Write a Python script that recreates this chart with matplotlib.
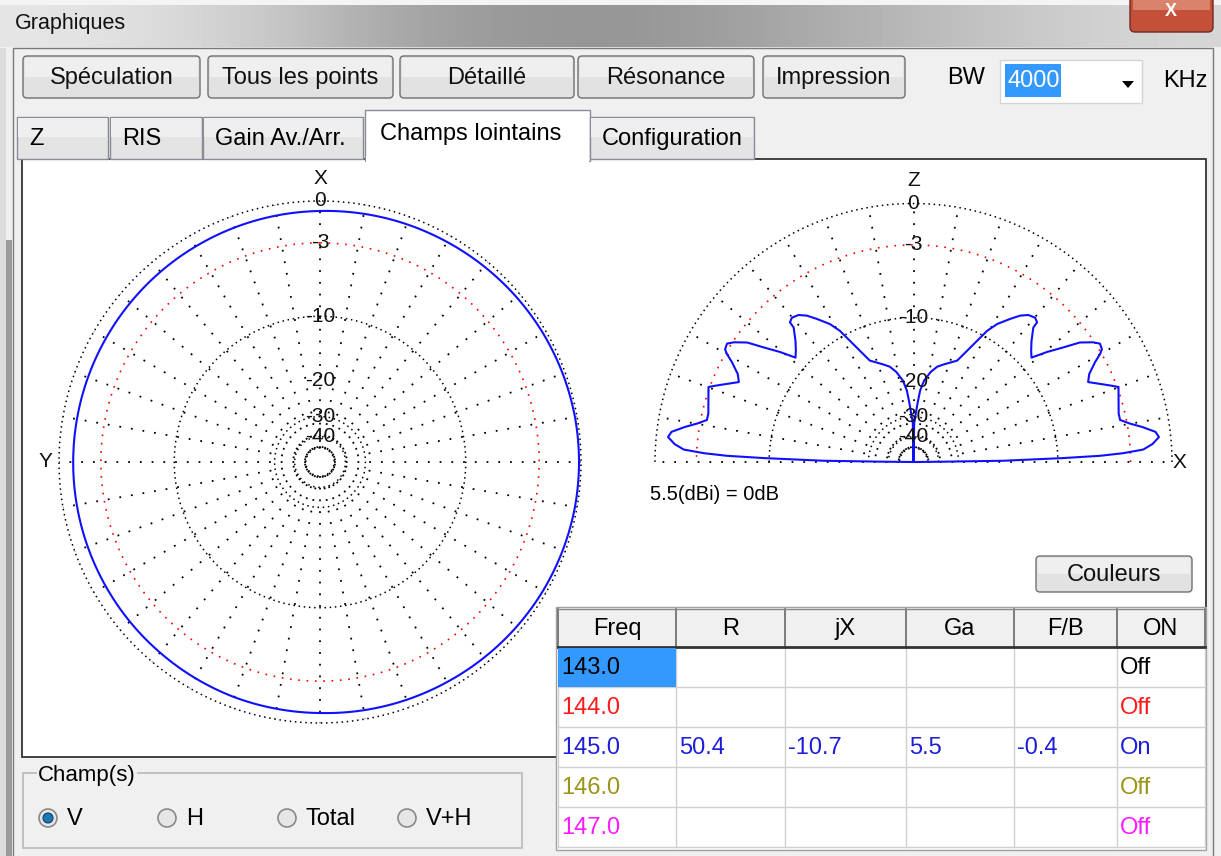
import numpy as np
import matplotlib.pyplot as plt
from matplotlib import font_manager
from matplotlib.patches import Rectangle, FancyBboxPatch, Circle, Polygon

W, H = 1221, 856

# ---- chart data ----
circle_db = [0, -3, -10, -30, -40, -50]
label_db = [0, -3, -10, -20, -30, -40]
label_txt = ['0', '-3', '-10', '-20', '-30', '-40']

# azimuth plane (XY), degrees counter-clockwise from X, gain in dB
az_deg = list(range(0, 361, 10))
az_db = [-0.67, -0.72, -0.77, -0.82, -0.86, -0.90, -0.93, -0.95, -0.96, -0.96,
         -0.95, -0.93, -0.90, -0.86, -0.82, -0.77, -0.72, -0.70, -0.67, -0.60,
         -0.53, -0.46, -0.38, -0.30, -0.23, -0.18, -0.14, -0.13, -0.14, -0.18,
         -0.23, -0.30, -0.38, -0.46, -0.53, -0.60, -0.67]

# elevation plane (XZ), elevation above horizon, one side (pattern is symmetric)
el_deg = [0, 0.6, 0.8, 1.5, 1.9, 2.4, 3.1, 4.3, 5.8, 7.1,
          8.7, 10.1, 11.5, 13.3, 20.1, 21.3, 24.6, 26.6, 28.8, 30.1,
          30.9, 32.4, 33.7, 35.7, 37.4, 39.5, 41.5, 43.5, 45.7, 48.3,
          48.5, 49.9, 52.0, 53.9, 55.9, 58.8, 60.7, 62.3, 64.3, 66.7,
          72.6, 76.0, 79.2, 82.6, 84.7, 86.1, 87.3, 89.0, 90.0]
el_db = [-99, -36.7, -18.1, -9.4, -5.6, -3.6, -2.0, -1.3, -0.8, -1.0,
         -1.9, -2.8, -3.5, -3.5, -2.9, -3.5, -5.1, -4.7, -3.8, -3.1,
         -2.8, -2.7, -3.1, -4.0, -5.4, -6.9, -8.5, -8.0, -7.3, -6.2,
         -5.6, -5.4, -5.6, -6.1, -6.9, -8.1, -9.3, -10.9, -12.7, -14.6,
         -15.9, -16.6, -17.8, -19.7, -22.0, -25.5, -28.7, -32.7, -99]

# ---- GUI texts ----
buttons = ['Spéculation', 'Tous les points', 'Détaillé', 'Résonance', 'Impression']
tabs = ['Z', 'RIS', 'Gain Av./Arr.', 'Champs lointains', 'Configuration']
radios = ['V', 'H', 'Total', 'V+H']
cols = ['Freq', 'R', 'jX', 'Ga', 'F/B', 'ON']
freqs = ['143.0', '144.0', '145.0', '146.0', '147.0']
r_vals = ['', '', '50.4', '', '']
jx_vals = ['', '', '-10.7', '', '']
ga_vals = ['', '', '5.5', '', '']
fb_vals = ['', '', '-0.4', '', '']
on_vals = ['Off', 'Off', 'On', 'Off', 'Off']
row_colors = ['black', '#ff1a1a', '#1e1ed8', '#9a9418', '#ff1aff']

# ---- layout (pixels) ----
button_x = [(23, 200), (208, 393), (400, 574), (578, 754), (763, 905)]
tab_x = [(17, 108), (110, 202), (203, 363), (365, 590), (590, 754)]
radio_x = [48, 167, 287, 407]
col_edges = [558, 676, 785, 906, 1014, 1117, 1205]
row_edges = [609, 647, 687, 727, 767, 807, 847]

names = {f.name for f in font_manager.fontManager.ttflist}
gui_font = 'Liberation Sans'
narrow = 'Liberation Sans Narrow' if 'Liberation Sans Narrow' in names else 'Liberation Sans'
plt.rcParams['font.family'] = gui_font


def arrl(db):
    # ARRL log scale: 0.89 per 2 dB
    return 0.89 ** (-np.asarray(db, dtype=float) / 2)


fig = plt.figure(figsize=(W / 100, H / 100), dpi=100, facecolor='#f0f0f0')
bg = fig.add_axes([0, 0, 1, 1])
bg.axis('off')

# title bar
shade = np.array([[0.90, 0.86, 0.78, 0.66, 0.60, 0.58, 0.62, 0.68, 0.74, 0.80, 0.84]])
bg.imshow(shade, cmap='gray', vmin=0, vmax=1, extent=(0, W, 47, 5),
          aspect='auto', interpolation='bicubic')
bg.add_patch(Rectangle((0, 0), W, 5, fc='#f4f4f4', ec='none'))
bg.text(15, 23, 'Graphiques', va='center', fontsize=15.5, color='#111111')
bg.add_patch(FancyBboxPatch((1130, -12), 83, 44, boxstyle='round,pad=0,rounding_size=5',
                            fc='#c4503a', ec='#6e2a20', lw=1))
bg.add_patch(Rectangle((1133, -8), 77, 18, fc='#d9826c', ec='none'))
bg.text(1171, 11, 'X', color='white', fontsize=13, weight='bold', ha='center', va='center')

# window frame
bg.add_patch(Rectangle((13, 48), 1200, 820, fc='#f0f0f0', ec='#7a7a7a', lw=1))
bg.add_patch(Rectangle((0, 48), 6, H, fc='#dcdcdc', ec='none'))
bg.add_patch(Rectangle((6, 240), 6, H, fc='#9a9a9a', ec='none'))


def button(x0, x1, y0, y1, label):
    bg.add_patch(FancyBboxPatch((x0, y0), x1 - x0, y1 - y0,
                                boxstyle='round,pad=0,rounding_size=4',
                                fc='#e2e2e2', ec='#707070', lw=1))
    bg.add_patch(Rectangle((x0 + 2, y0 + 2), x1 - x0 - 4, (y1 - y0) / 2 - 2,
                           fc='#efefef', ec='none'))
    bg.text((x0 + x1) / 2, (y0 + y1) / 2 + 1, label, ha='center', va='center',
            fontsize=17, color='#111111')


for (x0, x1), lab in zip(button_x, buttons):
    button(x0, x1, 56, 98, lab)

bg.text(966, 78, 'BW', ha='center', va='center', fontsize=17)
bg.add_patch(Rectangle((1000, 60), 142, 43, fc='white', ec='#d4d4d4', lw=1))
bg.add_patch(Rectangle((1005, 64), 56, 33, fc='#3399ff', ec='none'))
bg.text(1007, 81, '4000', color='white', va='center', fontsize=17)
bg.add_patch(Polygon([(1122, 81), (1134, 81), (1128, 88)], closed=True, fc='black', ec='none'))
bg.text(1163, 81, 'KHz', va='center', fontsize=17)

# content panel
bg.add_patch(Rectangle((22, 159), 1184, 598, fc='white', ec='#333333', lw=1.3))

# tabs
for i, ((x0, x1), lab) in enumerate(zip(tab_x, tabs)):
    if i == 3:
        bg.add_patch(Rectangle((x0, 110), x1 - x0, 51, fc='white', ec='#898c95', lw=1))
        bg.add_patch(Rectangle((x0 + 1, 156), x1 - x0 - 2, 8, fc='white', ec='none'))
        bg.text(x0 + 15, 134, lab, va='center', fontsize=17)
    else:
        bg.add_patch(Rectangle((x0, 117), x1 - x0, 42, fc='#e4e4e4', ec='#898c95', lw=1))
        bg.add_patch(Rectangle((x0 + 1, 118), x1 - x0 - 2, 19, fc='#efefef', ec='none'))
        bg.text(x0 + 12, 139, lab, va='center', fontsize=17)


# ---- polar plots ----
def polar_axes(cx, cy, R, zero):
    ax = fig.add_axes([(cx - R) / W, (H - cy - R) / H, 2 * R / W, 2 * R / H],
                      projection='polar')
    ax.set_theta_zero_location(zero)
    ax.set_ylim(0, 1)
    ax.axis('off')
    return ax


def grid(ax, a0, a1, spokes):
    th = np.radians(np.linspace(a0, a1, 720))
    for db in circle_db:
        if db == -3:
            ax.plot(th, np.full_like(th, arrl(db)), color='red', lw=1.2,
                    ls=(0, (1, 4)), clip_on=False)
        else:
            ax.plot(th, np.full_like(th, arrl(db)), color='black', lw=1.1,
                    ls=(0, (1, 2.4)), clip_on=False)
    for a in spokes:
        ax.plot([np.radians(a)] * 2, [arrl(-50), 1.0], color='black', lw=1.3,
                ls=(0, (1, 5.5)), clip_on=False)


lab_kw = dict(ha='center', va='center', fontsize=15, family=narrow, color='#111111')

axl = polar_axes(320, 462, 261, 'N')
grid(axl, 0, 360, range(0, 360, 10))
az_line, = axl.plot(np.radians(az_deg), arrl(az_db), color='#1010ff', lw=1.5)
# draw the segments as polar arcs, like matplotlib's own polar gridlines
az_line.get_path()._interpolation_steps = 30
for db, t in zip(label_db, label_txt):
    axl.text(0, arrl(db), t, **lab_kw)
axl.text(0, 1.085, 'X', **lab_kw)
axl.text(np.pi / 2, 1.05, 'Y', **lab_kw)

axr = polar_axes(913.5, 462, 258.5, 'E')
grid(axr, 0, 180, range(0, 181, 10))
el = np.array(el_deg)
gain = np.array(el_db)
th_full = np.radians(np.concatenate([el, 180 - el[::-1]]))
r_full = np.concatenate([arrl(gain), arrl(gain[::-1])])
axr.plot(th_full, r_full, color='#1010ff', lw=1.5)
for db, t in zip(label_db, label_txt):
    axr.text(np.pi / 2, arrl(db), t, **lab_kw)
axr.text(np.pi / 2, 1.09, 'Z', **lab_kw)
axr.text(0, 1.03, 'X', **lab_kw)

bg.text(650, 494, '5.5(dBi) = 0dB', va='center', fontsize=14.5)

# Couleurs button
button(1036, 1192, 556, 592, 'Couleurs')

# ---- table ----
bg.add_patch(Rectangle((556, 607), 650, 243, fc='white', ec='#a0a0a0', lw=1, zorder=3))
bg.add_patch(Rectangle((col_edges[0], row_edges[0]), col_edges[-1] - col_edges[0],
                       row_edges[1] - row_edges[0], fc='#f0f0f0', ec='none', zorder=3))
for x in col_edges:
    bg.plot([x, x], [row_edges[0], row_edges[1]], color='#666666', lw=1.2, zorder=4)
    bg.plot([x, x], [row_edges[1], row_edges[-1]], color='#d0d0d0', lw=1, zorder=4)
for y in row_edges[2:]:
    bg.plot([col_edges[0], col_edges[-1]], [y, y], color='#d0d0d0', lw=1, zorder=4)
bg.plot([col_edges[0], col_edges[-1]], [row_edges[0], row_edges[0]], color='#888888', lw=1, zorder=4)
bg.plot([col_edges[0], col_edges[-1]], [row_edges[1], row_edges[1]], color='#333333', lw=2, zorder=4)
bg.add_patch(Rectangle((col_edges[0], row_edges[1] + 1), col_edges[1] - col_edges[0],
                       row_edges[2] - row_edges[1] - 1, fc='#3399ff', ec='none', zorder=4))

for j, c in enumerate(cols):
    bg.text((col_edges[j] + col_edges[j + 1]) / 2, (row_edges[0] + row_edges[1]) / 2 + 1, c,
            ha='center', va='center', fontsize=17, zorder=5)

table_cols = [freqs, r_vals, jx_vals, ga_vals, fb_vals, on_vals]
for i in range(len(freqs)):
    yc = (row_edges[i + 1] + row_edges[i + 2]) / 2 + 1
    for j, colvals in enumerate(table_cols):
        if colvals[i]:
            bg.text(col_edges[j] + 3, yc, colvals[i], va='center', fontsize=17,
                    color=row_colors[i], zorder=5)

# ---- Champ(s) group ----
bg.add_patch(Rectangle((23, 773), 499, 75, fc='none', ec='#b9b9b9', lw=1.2))
bg.text(38, 776, 'Champ(s)', va='center', fontsize=16,
        bbox=dict(fc='#f0f0f0', ec='none', pad=1))
for k, (x, lab) in enumerate(zip(radio_x, radios)):
    bg.add_patch(Circle((x, 818), 9, fc='#e6e6e6', ec='#8a8a8a', lw=1.2))
    if k == 0:
        bg.add_patch(Circle((x, 818), 5, fc='#1f78b4', ec='#0b3f6a', lw=0.8))
    bg.text(x + 19, 819, lab, va='center', fontsize=17)

bg.set_xlim(0, W)
bg.set_ylim(H, 0)

fig.savefig('out.png', dpi=100, facecolor=fig.get_facecolor())
